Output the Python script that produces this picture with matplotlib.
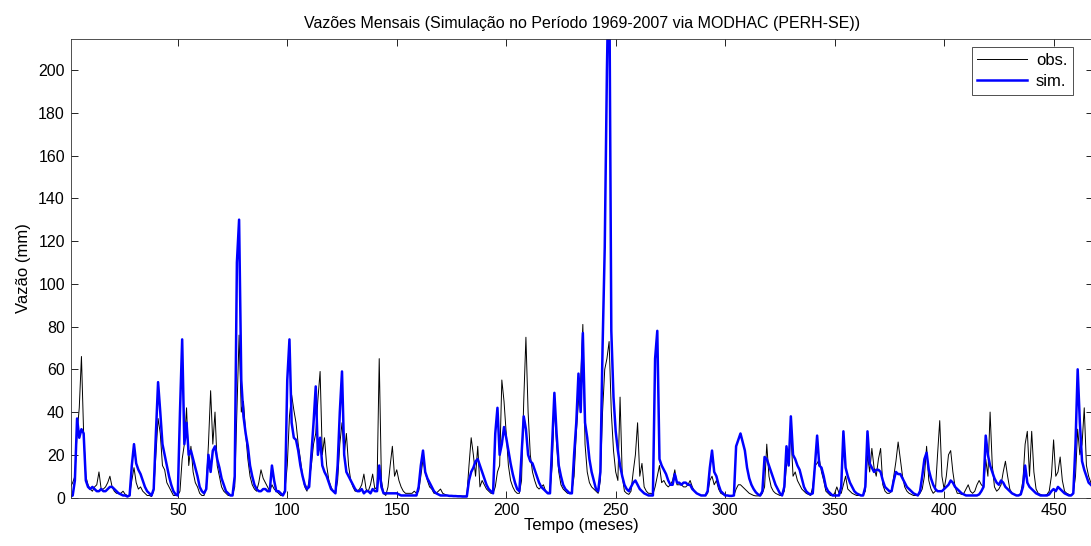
import numpy as np
import matplotlib
matplotlib.use("Agg")
import matplotlib.pyplot as plt

# monthly flows (mm), 1969-2007, 12 values per row
obs = [
    5, 7, 10, 30, 42, 66, 30, 10, 6, 4, 3, 5,
    6, 12, 4, 4, 5, 7, 10, 5, 3, 2, 2, 2,
    3, 1.5, 1, 1, 8, 14, 7, 4, 5, 3, 2, 1,
    1, 0.5, 3, 20, 37, 30, 15, 13, 7, 5, 3, 1,
    1, 1, 3, 18, 25, 42, 15, 24, 12, 7, 5, 2,
    1, 1, 5, 25, 50, 25, 40, 15, 10, 5, 3, 2,
    1, 1, 1, 5, 40, 76, 40, 45, 30, 18, 10, 6,
    4, 3, 7, 13, 9, 7, 5, 3, 6, 4, 3, 2,
    1, 1, 4, 15, 38, 48, 41, 35, 25, 18, 10, 5,
    3, 8, 15, 25, 30, 46, 59, 20, 28, 15, 8, 5,
    3, 2, 8, 25, 35, 20, 30, 15, 8, 5, 3, 3,
    4, 6, 11, 4, 3, 6, 11, 4, 5, 65, 8, 2,
    1, 5, 15, 24, 10, 13, 8, 5, 3, 2, 2, 2,
    2, 3, 2, 3, 10, 18, 12, 8, 5, 4, 2, 2,
    3, 4, 2, 1.5, 1, 1, 1, 1, 1, 0.8, 0.8, 0.7,
    0.7, 0.7, 15, 28, 20, 10, 24, 5, 8, 6, 4, 3,
    2, 2, 5, 12, 15, 55, 45, 30, 15, 8, 5, 3,
    2, 2, 8, 45, 75, 40, 20, 12, 8, 5, 4, 5,
    6, 3, 2, 3, 15, 44, 25, 12, 6, 4, 3, 2,
    2, 3, 10, 30, 45, 55, 81, 25, 12, 7, 5, 4,
    3, 2, 8, 40, 60, 65, 73, 40, 22, 12, 8, 47,
    10, 3, 2, 1.5, 3, 12, 20, 35, 10, 16, 5, 3,
    2, 2, 1.5, 5, 10, 15, 7, 8, 6, 5, 6, 8,
    13, 6, 6, 6, 5, 5, 6, 8, 5, 3, 2, 1.5,
    1, 1, 1, 2, 8, 10, 6, 8, 4, 2, 1.5, 1,
    1, 1, 1, 1, 4, 6, 6, 5, 4, 3, 2, 1.5,
    1, 0.8, 0.8, 0.8, 2, 5, 25, 10, 5, 3, 2, 1.5,
    1, 1, 3, 15, 20, 31, 10, 12, 8, 6, 4, 3,
    2, 1.5, 1, 5, 15, 16, 18, 12, 8, 3, 2, 1,
    1, 2, 5, 2, 2, 6, 10, 4, 3, 2, 1.5, 1,
    1, 1, 1, 3, 20, 12, 23, 14, 10, 18, 23, 6,
    3, 2, 2, 3, 10, 17, 26, 18, 10, 5, 3, 2,
    1.5, 1, 1, 1, 2, 4, 10, 24, 8, 4, 2, 3,
    20, 36, 10, 4, 10, 20, 22, 12, 5, 2, 2, 1.5,
    2, 4, 6, 3, 2, 3, 6, 8, 6, 5, 18, 10,
    40, 15, 5, 3, 4, 6, 12, 17, 10, 4, 2, 1.5,
    1, 1, 2, 8, 25, 31, 10, 31, 12, 4, 2, 1.5,
    1, 1, 1.5, 3, 10, 27, 10, 12, 19, 8, 3, 2,
    1.5, 1, 2, 10, 32, 20, 25, 42, 15, 10, 7, 5,
]

sim = [
    0.5, 1, 8, 37, 28, 32, 30, 8, 5, 4, 5, 4,
    3, 3, 4, 3, 3, 4, 5, 5, 4, 3, 2, 1.5,
    1, 1, 0.5, 1, 15, 25, 16, 13, 11, 8, 5, 3,
    2, 1, 4, 30, 54, 40, 25, 20, 15, 10, 6, 3,
    1.5, 1, 40, 74, 25, 35, 20, 22, 18, 14, 10, 5,
    3, 2, 4, 20, 12, 22, 24, 18, 14, 9, 6, 3,
    2, 1, 1, 10, 110, 130, 55, 38, 30, 24, 15, 10,
    6, 4, 3, 3, 4, 4, 3, 3, 15, 8, 3, 3,
    2, 1, 3, 55, 74, 35, 28, 27, 22, 15, 10, 6,
    4, 5, 20, 35, 52, 20, 28, 15, 12, 10, 7, 4,
    3, 2, 15, 40, 59, 20, 12, 10, 8, 6, 4, 3,
    3, 4, 2, 3, 3, 2, 4, 3, 3, 15, 5, 2,
    2, 2, 2, 2, 2, 2, 1.5, 1, 1, 1, 1, 1,
    1, 1, 1, 5, 15, 22, 12, 9, 7, 5, 3, 2,
    1.5, 1, 1, 1, 1, 0.8, 0.8, 0.7, 0.7, 0.6, 0.6, 0.5,
    0.5, 0.5, 8, 12, 14, 17, 18, 15, 12, 9, 6, 4,
    3, 2, 30, 42, 20, 25, 33, 28, 22, 16, 11, 7,
    4, 3, 20, 38, 32, 20, 17, 16, 13, 10, 7, 5,
    4, 3, 2, 2, 25, 49, 30, 15, 10, 6, 4, 3,
    2, 2, 20, 35, 58, 40, 77, 35, 28, 18, 12, 8,
    4, 3, 12, 70, 117, 200, 260, 78, 47, 31, 22, 15,
    10, 6, 4, 3, 5, 7, 8, 6, 4, 3, 2, 1.5,
    1, 1, 1, 65, 78, 18, 15, 13, 11, 8, 6, 6,
    11, 7, 7, 6, 7, 7, 6, 6, 4, 3, 2, 1.5,
    1, 1, 1, 3, 14, 22, 12, 10, 6, 3, 2, 1,
    1, 0.8, 0.8, 1, 24, 27, 30, 26, 22, 14, 9, 6,
    4, 2.5, 1.5, 1, 3, 19, 18, 15, 12, 9, 6, 4,
    2, 1, 5, 24, 15, 38, 20, 18, 15, 13, 9, 5,
    3, 2, 1.5, 2, 15, 29, 15, 14, 10, 5, 3, 2,
    1, 1, 1, 1, 5, 31, 14, 10, 7, 5, 3, 2,
    1.5, 1, 1, 5, 31, 16, 14, 12, 13, 13, 12, 8,
    5, 4, 3, 3, 8, 12, 11, 11, 9, 7, 5, 4,
    3, 2, 1.5, 1, 3, 10, 18, 21, 13, 9, 6, 4,
    3, 3, 3, 4, 5, 6, 8, 7, 5, 4, 3, 2,
    1.5, 1, 1, 1, 1, 1, 1, 1.5, 3, 5, 29, 20,
    15, 12, 9, 7, 6, 8, 7, 5, 4, 3, 2, 1.5,
    1, 1, 1.5, 5, 15, 7, 5, 4, 3, 2, 1.5, 1,
    1, 1, 1, 1.5, 3, 4, 3, 5, 4, 3, 2, 1.5,
    1, 1, 2, 25, 60, 35, 17, 13, 10, 7, 6, 5,
]

months = np.arange(1, len(obs) + 1)
xticks = [50, 100, 150, 200, 250, 300, 350, 400, 450]
yticks = list(range(0, 201, 20))

plt.rcParams["font.family"] = ["Liberation Sans", "DejaVu Sans"]

W, H = 1091, 546
fig = plt.figure(figsize=(W / 100, H / 100), dpi=100)
# axes run slightly past the right edge of the picture, as in the original
ax = fig.add_axes([70.5 / W, 48.4 / H, (1093 - 70.5) / W, (497.6 - 39) / H])

ax.plot(months, obs, color="black", lw=0.7, label="obs.")
ax.plot(months, sim, color="#0000ff", lw=1.8, label="sim.")

ax.set_xlim(1, 468)
ax.set_ylim(0, 214.5)
ax.set_xticks(xticks)
ax.set_yticks(yticks)
ax.tick_params(direction="in", top=True, right=True, length=5, width=0.6,
               labelsize=11.5, pad=4)
for s in ax.spines.values():
    s.set_linewidth(0.6)
    s.set_color("#333333")

ax.set_title("Vazões Mensais (Simulação no Período 1969-2007 via MODHAC (PERH-SE))",
             fontsize=11.5, pad=8)
ax.set_xlabel("Tempo (meses)", fontsize=12, labelpad=0)
ax.set_ylabel("Vazão (mm)", fontsize=12, labelpad=5)

leg = ax.legend(loc="upper right", bbox_to_anchor=(1073 / W, 1 - 47 / H),
                bbox_transform=fig.transFigure, fancybox=False, framealpha=1,
                edgecolor="#333333", fontsize=12, handlelength=3.0,
                borderpad=0.35, labelspacing=0.35, handletextpad=0.5, borderaxespad=0)
leg.get_frame().set_linewidth(0.6)

fig.savefig("out.png", dpi=100)
